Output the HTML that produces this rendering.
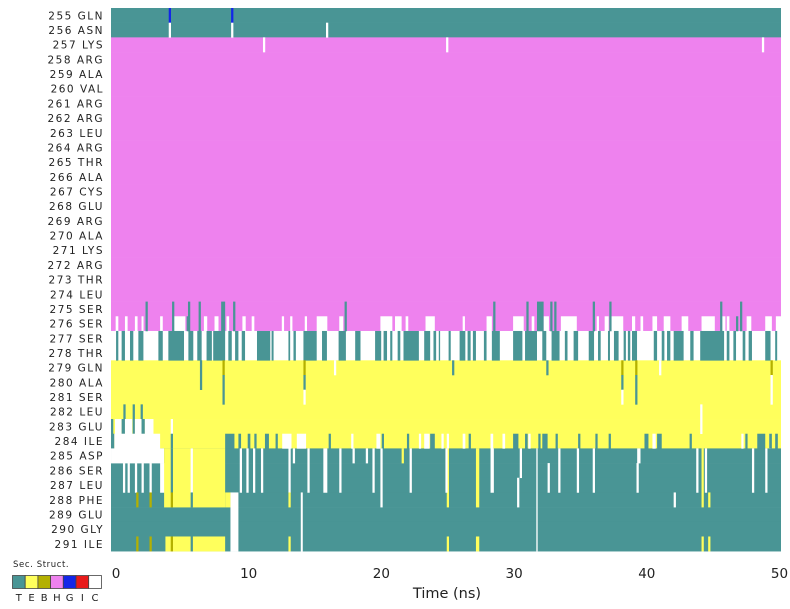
<!DOCTYPE html>
<html><head><meta charset="utf-8"><style>
body{margin:0;background:#fff;width:790px;height:609px;overflow:hidden}
svg{display:block;font-family:"DejaVu Sans","Liberation Sans",sans-serif}
</style></head><body>
<svg id="c" width="790" height="609"></svg>
<script>
const residues=["255 GLN","256 ASN","257 LYS","258 ARG","259 ALA","260 VAL","261 ARG","262 ARG","263 LEU","264 ARG","265 THR","266 ALA","267 CYS","268 GLU","269 ARG","270 ALA","271 LYS","272 ARG","273 THR","274 LEU","275 SER","276 SER","277 SER","278 THR","279 GLN","280 ALA","281 SER","282 LEU","283 GLU","284 ILE","285 ASP","286 SER","287 LEU","288 PHE","289 GLU","290 GLY","291 ILE"];
const baseStates=["T","T","H","H","H","H","H","H","H","H","H","H","H","H","H","H","H","H","H","H","H","H","C","C","E","E","E","E","E","E","T","T","T","T","T","T","T"];
const xTicks=[0,10,20,30,40,50];
const legendStates=["T","E","B","H","G","I","C"];
// [rowFrom,rowTo,tStart,tEnd(0 = single spike),state]
const segments=[
[0,0,4.05,0,"G"],[0,0,8.75,0,"G"],[1,1,4.05,0,"C"],[1,1,8.75,0,"C"],[1,1,15.9,0,"C"],
[2,2,11.15,0,"C"],[2,2,24.95,0,"C"],[2,2,48.75,0,"C"],
[21,21,0.05,0.25,"C"],[21,21,0.75,0.95,"C"],[21,21,1.5,1.7,"C"],[21,21,2.0,2.15,"C"],[21,21,3.4,3.6,"C"],[21,21,4.4,5.3,"C"],[21,21,6.7,6.95,"C"],[21,21,7.5,7.8,"C"],[21,21,8.4,8.6,"C"],[21,21,9.6,9.85,"C"],[21,21,10.3,10.5,"C"],[21,21,12.57,0,"C"],[21,21,13.2,0,"C"],[21,21,14.3,0,"C"],[21,21,15.2,16.0,"C"],[21,21,16.9,17.2,"C"],[21,21,20.0,20.9,"C"],[21,21,21.1,21.6,"C"],[21,21,21.9,22.1,"C"],[21,21,23.4,24.1,"C"],[21,21,26.2,0,"C"],[21,21,28.0,28.4,"C"],[21,21,30.0,30.8,"C"],[21,21,31.4,31.6,"C"],[21,21,32.3,32.7,"C"],[21,21,33.6,34.8,"C"],[21,21,36.3,0,"C"],[21,21,36.9,37.2,"C"],[21,21,37.4,38.3,"C"],[21,21,38.96,39.2,"C"],[21,21,39.6,39.8,"C"],[21,21,40.5,40.85,"C"],[21,21,41.35,41.85,"C"],[21,21,42.7,43.2,"C"],[21,21,44.2,45.2,"C"],[21,21,45.7,46.0,"C"],[21,21,46.1,46.3,"C"],[21,21,47.6,47.95,"C"],[21,21,49.0,49.5,"C"],[21,21,49.8,50.2,"C"],
[20,21,2.3,0,"T"],[20,21,4.3,0,"T"],[20,21,5.5,0,"T"],[20,21,6.3,0,"T"],[20,21,8.0,8.3,"T"],[20,21,8.9,0,"T"],[20,21,17.3,0,"T"],[20,21,28.5,0,"T"],[20,21,31.0,0,"T"],[20,21,31.8,32.3,"T"],[20,21,32.8,0,"T"],[20,21,33.1,0,"T"],[20,21,36.0,0,"T"],[20,21,37.25,0,"T"],[20,21,45.6,0,"T"],[20,21,47.1,0,"T"],[21,21,5.4,0,"T"],[21,21,46.8,0,"T"],
[22,23,0.08,0.25,"T"],[22,23,0.5,0.75,"T"],[22,23,1.13,1.38,"T"],[22,23,1.76,2.14,"T"],[22,23,3.27,3.6,"T"],[22,23,4.02,5.2,"T"],[22,23,5.53,5.9,"T"],[22,23,6.2,6.53,"T"],[22,23,6.9,7.3,"T"],[22,23,7.4,8.3,"T"],[22,23,8.54,8.8,"T"],[22,23,9.05,9.3,"T"],[22,23,9.55,9.8,"T"],[22,23,10.7,11.7,"T"],[22,23,11.8,11.95,"T"],
[22,23,13.07,13.2,"T"],[22,23,13.45,13.63,"T"],[22,23,14.2,15.2,"T"],[22,23,15.6,15.97,"T"],[22,23,16.85,17.4,"T"],[22,23,18.1,18.5,"T"],[22,23,19.6,20.06,"T"],[22,23,20.24,20.5,"T"],[22,23,20.74,20.9,"T"],[22,23,21.3,21.5,"T"],[22,23,21.74,22.9,"T"],[22,23,23.3,23.75,"T"],[22,23,24.0,24.2,"T"],[22,23,24.4,24.5,"T"],
[22,23,25.14,25.3,"T"],[22,23,25.97,26.4,"T"],[22,23,26.57,26.8,"T"],[22,23,26.97,27.2,"T"],[22,23,27.8,28.0,"T"],[22,23,28.4,29.0,"T"],[22,23,30.0,30.7,"T"],[22,23,30.9,31.8,"T"],[22,23,32.2,32.5,"T"],[22,23,32.9,33.5,"T"],[22,23,33.9,34.1,"T"],[22,23,34.56,34.9,"T"],[22,23,35.7,36.1,"T"],[22,23,36.4,36.6,"T"],
[22,23,37.15,37.3,"T"],[22,23,37.6,37.95,"T"],[22,23,38.33,38.5,"T"],[22,23,38.65,38.83,"T"],[22,23,38.96,39.34,"T"],[22,23,40.6,40.85,"T"],[22,23,41.2,41.4,"T"],[22,23,41.6,41.85,"T"],[22,23,42.1,42.85,"T"],[22,23,43.35,43.6,"T"],[22,23,44.1,45.9,"T"],[22,23,46.1,46.3,"T"],[22,23,46.6,46.8,"T"],[22,23,47.3,47.5,"T"],[22,23,47.75,48.0,"T"],[22,23,49.0,49.4,"T"],[22,23,49.75,49.9,"T"],
[24,25,6.4,0,"T"],[24,24,8.1,0,"B"],[25,26,8.1,0,"T"],[24,24,14.2,0,"B"],[25,25,14.2,0,"T"],[26,26,14.2,0,"C"],[24,24,16.5,0,"C"],[24,24,25.4,0,"T"],[24,24,32.5,0,"T"],
[24,24,38.15,0,"B"],[25,25,38.15,0,"T"],[26,26,38.15,0,"C"],[24,24,39.2,0,"B"],[25,26,39.2,0,"T"],[24,24,41.0,0,"C"],[27,28,44.1,0,"C"],[24,24,49.4,0,"B"],[25,26,49.4,0,"C"],
[27,27,0.63,0,"T"],[27,27,1.33,0,"T"],[27,27,1.93,0,"T"],
[28,28,-0.3,0.0,"T"],[28,28,0.0,0.5,"C"],[28,28,0.5,0.75,"T"],[28,28,0.75,1.3,"C"],[28,28,1.33,1.5,"T"],[28,28,1.5,2.0,"C"],[28,28,2.0,2.25,"T"],[28,28,2.25,2.9,"C"],[28,28,4.2,0,"C"],
[29,29,-0.3,-0.05,"T"],[29,29,-0.05,3.4,"C"],[29,30,4.2,0,"T"],[29,29,8.3,9.0,"T"],[29,29,9.3,9.5,"T"],[29,29,10.0,10.2,"T"],[29,29,10.5,0,"T"],[29,29,11.3,11.6,"T"],
[30,30,-0.3,3.7,"C"],[31,32,3.4,3.8,"C"],[30,33,3.7,8.3,"E"],[30,32,4.2,0,"T"],[30,32,5.7,0,"C"],[33,33,4.2,0,"B"],[33,33,5.7,0,"T"],
[31,32,0.6,0,"C"],[31,32,0.95,0,"C"],[31,32,1.5,0,"C"],[31,32,2.0,0,"C"],[31,32,2.6,0,"C"],[33,33,1.6,0,"B"],[33,33,2.6,0,"B"],
[36,36,3.8,8.3,"E"],[36,36,1.6,0,"B"],[36,36,2.6,0,"B"],[36,36,4.2,0,"B"],[36,36,5.7,0,"T"],[33,33,8.3,8.7,"E"],[33,36,8.7,9.3,"C"],
[30,32,9.4,0,"C"],[30,32,9.9,0,"C"],[30,32,10.4,0,"C"],[30,32,11.0,0,"C"],
[29,29,12.1,0,"T"],[29,29,12.6,13.3,"C"],[29,29,13.7,14.4,"C"],[29,29,16.1,0,"T"],[29,29,17.8,0,"C"],[29,29,19.7,20.0,"C"],[29,29,20.1,0,"T"],[29,29,22.0,0,"T"],[29,29,22.9,0,"C"],[29,29,23.3,23.7,"C"],[29,29,23.75,24.1,"T"],
[29,29,24.6,0,"C"],[29,29,25.0,0,"C"],[29,29,26.2,26.4,"C"],[29,29,26.65,0,"T"],[29,29,28.3,28.5,"C"],[29,29,29.2,29.4,"C"],[29,29,30.0,30.4,"T"],[29,29,30.9,31.1,"T"],[29,29,31.15,0,"C"],[29,29,31.9,0,"T"],[29,29,32.2,32.6,"T"],[29,29,33.2,0,"T"],[29,29,34.9,0,"T"],[29,29,36.2,0,"T"],[29,29,37.2,0,"T"],
[29,29,39.9,40.2,"T"],[29,29,40.5,40.75,"C"],[29,29,40.85,41.2,"T"],[29,29,43.3,0,"T"],[29,29,47.2,0,"C"],[29,29,47.5,0,"T"],[29,29,48.4,49.0,"T"],[29,29,49.3,0,"C"],[29,29,49.3,49.5,"T"],[29,29,49.75,49.95,"T"],
[30,32,13.07,0,"C"],[33,33,13.07,0,"E"],[36,36,13.07,0,"E"],[30,30,13.4,0,"C"],[33,36,14.0,14.15,"C"],[30,32,14.5,0,"C"],[30,32,15.7,16.0,"C"],[30,32,16.9,0,"C"],[30,30,17.9,0,"C"],[30,30,18.9,0,"C"],[30,32,19.4,0,"C"],[30,33,20.0,0,"C"],[30,30,21.6,0,"E"],[30,32,22.2,0,"C"],
[30,33,25.0,0,"E"],[36,36,25.0,0,"E"],[30,32,24.9,0,"C"],[30,33,27.2,27.45,"E"],[36,36,27.2,27.45,"E"],[30,32,28.3,28.55,"C"],[32,33,30.3,0,"C"],[30,31,30.5,0,"C"],[30,36,31.75,31.85,"C"],[31,32,32.6,0,"C"],[30,32,33.4,0,"C"],[30,32,34.8,0,"C"],[30,32,36.0,0,"C"],
[30,30,39.35,39.6,"C"],[31,32,39.3,0,"C"],[33,33,42.1,0,"C"],[30,32,43.8,0,"C"],[30,33,44.2,0,"E"],[36,36,44.2,0,"E"],[30,32,44.45,0,"C"],[33,33,44.7,0,"E"],[36,36,44.7,0,"E"],[30,32,48.0,0,"C"],[30,32,49.0,0,"C"]
];
const colors={T:"#499595",E:"#ffff5c",B:"#b4b000",H:"#ee82ee",G:"#1326e8",I:"#e81a1a",C:"#ffffff"};
const NS="http://www.w3.org/2000/svg";
const svg=document.getElementById("c");
const X0=111,X1=781,Y0=8,RH=14.68;
const xs=t=>115+t*13.27;
const ys=r=>Y0+r*RH;
function mk(tag,attrs,parent){const e=document.createElementNS(NS,tag);for(const k in attrs)e.setAttribute(k,attrs[k]);(parent||svg).appendChild(e);return e;}
const plot=mk("g",{});


residues.forEach((lab,i)=>{
  const r=mk("rect",{x:X0,y:ys(i),width:X1-X0,height:RH+0.3,fill:colors[baseStates[i]]},plot);
  
  
  const t=mk("text",{x:104,y:ys(i)+RH/2+4,"text-anchor":"end","font-size":"10.5","letter-spacing":"1.5",fill:"#222"});
  t.textContent=lab;
  
  
});
segments.forEach(s=>{
  const t0=s[2],t1=s[3]===0?s[2]+0.17:s[3];
  let a=Math.max(X0,xs(t0)),b=Math.min(X1,xs(t1));
  const r=mk("rect",{x:a,y:ys(s[0]),width:Math.max(0,b-a),height:(s[1]-s[0]+1)*RH+0.3,fill:colors[s[4]]},plot);
  
  
});
xTicks.forEach(v=>{
  const t=mk("text",{x:xs(v)+1,y:578,"text-anchor":"middle","font-size":"13.5",fill:"#222"});
  t.textContent=v;
  
  
});
const xt=mk("text",{x:447,y:598,"text-anchor":"middle","font-size":"14.5",fill:"#222"});
xt.textContent="Time (ns)";


const lt=mk("text",{x:13,y:567,"font-size":"8.5","letter-spacing":"0.6",fill:"#222"});
lt.textContent="Sec. Struct.";


legendStates.forEach((s,i)=>{
  const r=mk("rect",{x:12.5+i*12.7,y:575.5,width:12.7,height:13,fill:colors[s],stroke:"#444","stroke-width":"0.8"});
  
  
  const t=mk("text",{x:18.8+i*12.7,y:601,"text-anchor":"middle","font-size":"10",fill:"#222"});
  t.textContent=s;
  
  
});
</script>
</body></html>
